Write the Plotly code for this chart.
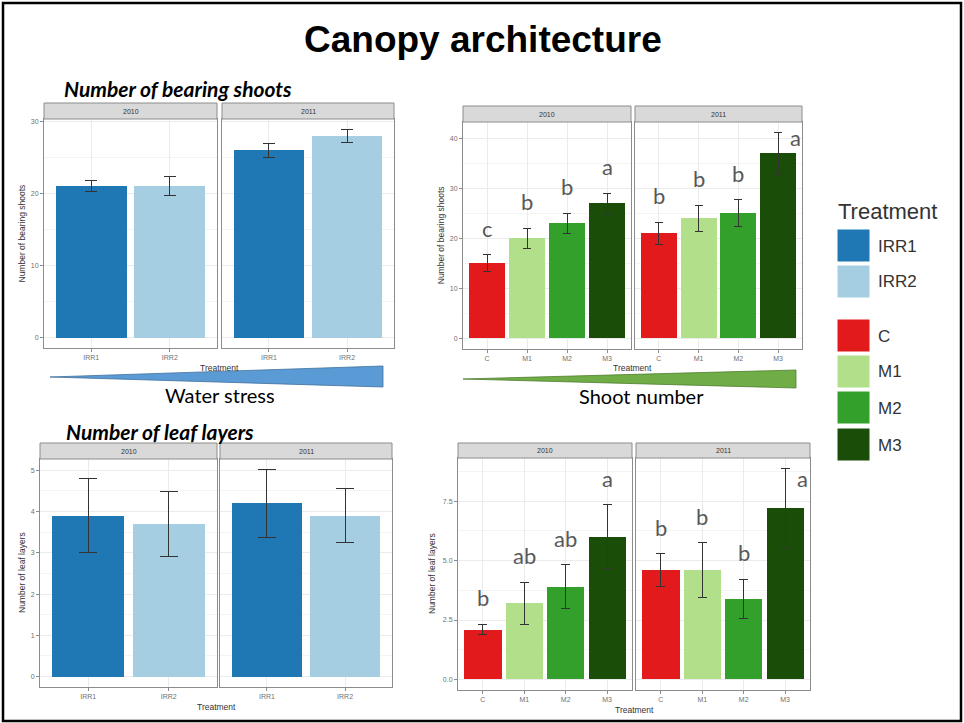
import plotly.graph_objects as go

W, H = 964, 723

# ---- data -------------------------------------------------------------
years = ["2010", "2011"]
irr_trt = ["IRR1", "IRR2"]
mix_trt = ["C", "M1", "M2", "M3"]

irr_colors = ["#1F78B4", "#A6CEE3"]
mix_colors = ["#E31A1C", "#B2DF8A", "#33A02C", "#1A4D08"]

# number of bearing shoots (rows = years)
shoots_irr_mean = [[21.0, 21.0], [26.0, 28.0]]
shoots_irr_err = [[0.75, 1.3], [1.0, 0.9]]
shoots_mix_mean = [[15.0, 20.0, 23.0, 27.0], [21.0, 24.0, 25.0, 37.0]]
shoots_mix_err = [[1.7, 2.0, 2.0, 2.0], [2.2, 2.6, 2.7, 4.2]]
shoots_mix_letters = [["c", "b", "b", "a"], ["b", "b", "b", "a"]]

# number of leaf layers (rows = years)
layers_irr_mean = [[3.9, 3.7], [4.2, 3.9]]
layers_irr_err = [[0.9, 0.79], [0.82, 0.65]]
layers_mix_mean = [[2.1, 3.2, 3.9, 6.0], [4.6, 4.6, 3.4, 7.2]]
layers_mix_err = [[0.22, 0.88, 0.93, 1.35], [0.69, 1.15, 0.82, 1.67]]
layers_mix_letters = [["b", "ab", "ab", "a"], ["b", "b", "b", "a"]]

# ---- styling helpers ---------------------------------------------------
GRID = "#EBEBEB"
MINOR = "#F4F4F4"
BORDER = "#8C8C8C"
TICKTXT = "#707070"
DARK = "#333333"
SANS = "Liberation Sans, Arial, sans-serif"
SLIDE = "Lato, Open Sans, sans-serif"


def fx(px):
    return px / W


def fy(py):
    return 1 - py / H


def label(text, x, y, size, color=DARK, family=SANS, xanchor="center", **kw):
    """Free text placed in slide pixel coordinates."""
    return dict(text=text, xref="paper", yref="paper", x=fx(x), y=fy(y),
                xanchor=xanchor, yanchor="middle", showarrow=False,
                font=dict(family=family, size=size, color=color), **kw)


# each plot: data + its frame on the slide (pixel boxes of panels)
plots = [
    dict(mean=shoots_irr_mean, err=shoots_irr_err, letters=None, cats=irr_trt,
         colors=irr_colors, ytitle="Number of bearing shoots", dtick=10, fmt="d",
         strip_top=103, top=119, bottom=348, boxes=[(44, 217), (222, 394)], cap=6),
    dict(mean=shoots_mix_mean, err=shoots_mix_err, letters=shoots_mix_letters, cats=mix_trt,
         colors=mix_colors, ytitle="Number of bearing shoots", dtick=10, fmt="d",
         strip_top=106, top=122, bottom=348.5, boxes=[(463, 631), (635, 802)], cap=4),
    dict(mean=layers_irr_mean, err=layers_irr_err, letters=None, cats=irr_trt,
         colors=irr_colors, ytitle="Number of leaf layers", dtick=1, fmt="d",
         strip_top=443, top=459, bottom=687, boxes=[(40, 217), (220, 392)], cap=9),
    dict(mean=layers_mix_mean, err=layers_mix_err, letters=layers_mix_letters, cats=mix_trt,
         colors=mix_colors, ytitle="Number of leaf layers", dtick=2.5, fmt=".1f",
         strip_top=443, top=458, bottom=690, boxes=[(458, 632), (636, 810)], cap=4.5),
]

fig = go.Figure()
layout = dict(
    width=W, height=H, margin=dict(l=0, r=0, t=0, b=0),
    paper_bgcolor="white", plot_bgcolor="white", showlegend=False,
    bargap=0,
)
shapes = []
annotations = []

for p, pl in enumerate(plots):
    # shared y range across the two year facets (ggplot style 5 % expansion)
    tops = [m + e for row_m, row_e in zip(pl["mean"], pl["err"]) for m, e in zip(row_m, row_e)]
    lows = [m - e for row_m, row_e in zip(pl["mean"], pl["err"]) for m, e in zip(row_m, row_e)]
    lo = min(0.0, min(lows))
    hi = max(tops)
    span = hi - lo
    yr = [lo - 0.05 * span, hi + 0.05 * span]
    n = len(pl["cats"])
    ph = pl["bottom"] - pl["top"]

    for j, yr_lab in enumerate(years):
        k = 2 * p + j + 1
        sfx = "" if k == 1 else str(k)
        x0, x1 = pl["boxes"][j]
        fig.add_trace(go.Bar(
            x=pl["cats"], y=pl["mean"][j], width=0.9,
            marker=dict(color=pl["colors"], line=dict(width=0)),
            error_y=dict(type="data", array=pl["err"][j], color=DARK,
                         thickness=1, width=pl["cap"]),
            xaxis="x" + sfx, yaxis="y" + sfx, hoverinfo="skip",
        ))
        layout["xaxis" + sfx] = dict(
            domain=[fx(x0), fx(x1)], anchor="y" + sfx, type="category",
            range=[-0.6, n - 0.4], showgrid=True, gridcolor=GRID, gridwidth=1,
            showline=True, mirror=True, linecolor=BORDER, linewidth=1,
            ticks="outside", ticklen=3, tickcolor=BORDER,
            tickfont=dict(family=SANS, size=7, color=TICKTXT), zeroline=False,
        )
        layout["yaxis" + sfx] = dict(
            domain=[fy(pl["bottom"]), fy(pl["top"])], anchor="x" + sfx,
            range=yr, dtick=pl["dtick"], tick0=0, tickformat=pl["fmt"],
            showgrid=True, gridcolor=GRID, gridwidth=1,
            minor=dict(dtick=pl["dtick"] / 2, showgrid=True, gridcolor=MINOR, gridwidth=0.6),
            showline=True, mirror=True, linecolor=BORDER, linewidth=1,
            showticklabels=(j == 0), ticks="outside" if j == 0 else "",
            ticklen=3, tickcolor=BORDER,
            tickfont=dict(family=SANS, size=7, color=TICKTXT), zeroline=False,
        )
        # facet strip
        shapes.append(dict(type="rect", xref="paper", yref="paper",
                           x0=fx(x0), x1=fx(x1), y0=fy(pl["top"]), y1=fy(pl["strip_top"]),
                           fillcolor="#D9D9D9", line=dict(color=BORDER, width=1), layer="above"))
        annotations.append(label(yr_lab, (x0 + x1) / 2, (pl["top"] + pl["strip_top"]) / 2, 7))
        # significance letters
        if pl["letters"]:
            for i, lab in enumerate(pl["letters"][j]):
                top_val = pl["mean"][j][i] + pl["err"][j][i]
                room = (yr[1] - top_val) / (yr[1] - yr[0]) * ph
                if room > 30:
                    annotations.append(dict(text=lab, x=pl["cats"][i], y=top_val,
                                            xref="x" + sfx, yref="y" + sfx, showarrow=False,
                                            xanchor="center", yanchor="bottom", yshift=11,
                                            font=dict(family=SLIDE, size=22, color="#595959")))
                else:
                    annotations.append(dict(text=lab, x=pl["cats"][i],
                                            y=pl["mean"][j][i] + 0.75 * pl["err"][j][i],
                                            xref="x" + sfx, yref="y" + sfx, showarrow=False,
                                            xanchor="left", xshift=10, yanchor="middle",
                                            font=dict(family=SLIDE, size=22, color="#595959")))

    # axis titles
    lx0 = pl["boxes"][0][0]
    rx1 = pl["boxes"][1][1]
    annotations.append(label("Treatment", (lx0 + rx1) / 2, pl["bottom"] + 19.5, 8.5))
    ticklabs = [format(v * pl["dtick"], pl["fmt"]) for v in range(int(yr[1] // pl["dtick"]) + 1)]
    lab_w = max(len(t) for t in ticklabs) * 4
    annotations.append(label(pl["ytitle"], lx0 - 14 - lab_w, (pl["top"] + pl["bottom"]) / 2,
                             8.5, textangle=-90))

# ---- slide decorations -------------------------------------------------
# frame
shapes.append(dict(type="rect", xref="paper", yref="paper",
                   x0=fx(3), x1=fx(961), y0=fy(721), y1=fy(3),
                   line=dict(color="black", width=2.5), fillcolor="rgba(0,0,0,0)"))

annotations.append(label("<b>Canopy architecture</b>", 483, 39, 37, color="black"))
annotations.append(label("<b><i>Number of bearing shoots</i></b>", 62, 88, 21,
                         color="black", family=SLIDE, xanchor="left"))
annotations.append(label("<b><i>Number of leaf layers</i></b>", 64, 431, 21,
                         color="black", family=SLIDE, xanchor="left"))


def tri(pts):
    return "M " + " L ".join(f"{fx(x)},{fy(y)}" for x, y in pts) + " Z"


shapes.append(dict(type="path", xref="paper", yref="paper",
                   path=tri([(50, 377), (383, 366), (383, 387)]),
                   fillcolor="#5B9BD5", line=dict(color="#41719C", width=0.8)))
shapes.append(dict(type="path", xref="paper", yref="paper",
                   path=tri([(463, 379), (796, 370), (796, 388)]),
                   fillcolor="#70AD47", line=dict(color="#507E32", width=0.8)))
annotations.append(label("Water stress", 220, 395, 20, color="black", family=SLIDE))
annotations.append(label("Shoot number", 641, 396, 20, color="black", family=SLIDE))

# legend
annotations.append(label("Treatment", 836, 211, 22, xanchor="left"))
key_tops = [229, 265, 319, 355, 391, 428]
key_labels = irr_trt + mix_trt
key_colors = irr_colors + mix_colors
for top, lab, col in zip(key_tops, key_labels, key_colors):
    shapes.append(dict(type="rect", xref="paper", yref="paper",
                       x0=fx(837), x1=fx(870), y0=fy(top + 33), y1=fy(top),
                       fillcolor=col, line=dict(color="white", width=1)))
    annotations.append(label(lab, 876, top + 17, 17, xanchor="left"))

layout["shapes"] = shapes
layout["annotations"] = annotations
fig.update_layout(**layout)
fig.write_html("out.html")
